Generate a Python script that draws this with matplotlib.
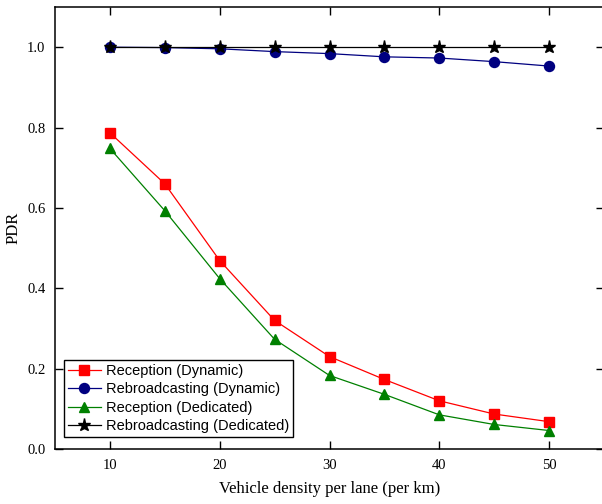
import numpy as np
import matplotlib
matplotlib.use("Agg")
import matplotlib.pyplot as plt

# Dados
densidade = [10, 15, 20, 25, 30, 35, 40, 45, 50]
recepcao_dinamico = [0.787, 0.660, 0.469, 0.320, 0.230, 0.173, 0.120, 0.087, 0.068]
rebroadcast_dinamico = [1.000, 0.999, 0.996, 0.989, 0.984, 0.976, 0.973, 0.964, 0.953]
recepcao_dedicado = [0.748, 0.593, 0.424, 0.273, 0.183, 0.136, 0.085, 0.061, 0.046]
rebroadcast_dedicado = [1.0, 1.0, 1.0, 1.0, 1.0, 1.0, 1.0, 1.0, 1.0]

x_ticks = [10, 20, 30, 40, 50]
y_ticks = [0.0, 0.2, 0.4, 0.6, 0.8, 1.0]

fig = plt.figure(figsize=(6.02, 5.04), dpi=100)
# o eixo direito fica um pouco fora da imagem, como no original
ax = fig.add_axes([55 / 602, (504 - 449) / 504, (604 - 55) / 602, (449 - 7) / 504])

ax.plot(densidade, recepcao_dinamico, color="#ff0000", marker="s", markersize=6.8,
        linewidth=0.9, label="Reception (Dynamic)")
ax.plot(densidade, rebroadcast_dinamico, color="#000080", marker="o", markersize=7.2,
        linewidth=0.9, label="Rebroadcasting (Dynamic)")
ax.plot(densidade, recepcao_dedicado, color="#008000", marker="^", markersize=7.8,
        linewidth=0.9, label="Reception (Dedicated)")
ax.plot(densidade, rebroadcast_dedicado, color="#000000", marker="*", markersize=9.5,
        linewidth=0.9, label="Rebroadcasting (Dedicated)")

ax.set_xlim(5, 55)
ax.set_ylim(0, 1.1)
ax.set_xticks(x_ticks)
ax.set_yticks(y_ticks)
ax.set_yticklabels([f"{v:.1f}" for v in y_ticks])

serif = "Liberation Serif"
for lbl in ax.get_xticklabels() + ax.get_yticklabels():
    lbl.set_fontfamily(serif)
    lbl.set_fontsize(10.5)

ax.tick_params(direction="in", length=6, width=1, top=True, right=True, pad=7)
for s in ax.spines.values():
    s.set_linewidth(1.1)

ax.set_xlabel("Vehicle density per lane (per km)", fontfamily=serif, fontsize=12, labelpad=7)
ax.set_ylabel("PDR", fontfamily=serif, fontsize=12, labelpad=4)

leg = ax.legend(loc="lower left", bbox_to_anchor=(9 / 549, 12 / 442),
                prop={"family": "Liberation Sans", "size": 10.5},
                frameon=True, fancybox=False, framealpha=1, edgecolor="black",
                borderpad=0.25, labelspacing=0.31, handlelength=2.3, handletextpad=0.35,
                borderaxespad=0.0)
leg.get_frame().set_linewidth(1.0)

fig.savefig("out.png", dpi=100)
